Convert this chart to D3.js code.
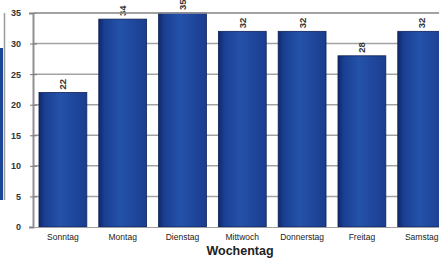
<!DOCTYPE html>
<html>
<head>
  <meta charset="UTF-8">
  <title>Wochentag</title>
  <style>
    body { margin: 0; background: #fff; }
    svg { display: block; font-family: "Liberation Sans", Arial, sans-serif; }
  </style>
</head>
<body>
  <svg id="chart" width="439" height="261"></svg>

  <script src="https://d3js.org/d3.v7.min.js"></script>
  <script>
    // data
    var days = ["Sonntag", "Montag", "Dienstag", "Mittwoch", "Donnerstag", "Freitag", "Samstag"];
    var counts = [22, 34, 35, 32, 32, 28, 32];
    var yTicks = [0, 5, 10, 15, 20, 25, 30, 35];

    var svg = d3.select("#chart"),
      margin = {top: 13, left: 33, bottom: 34},
      height = +svg.attr("height") - margin.top - margin.bottom,
      step = 59.8,
      width = step * days.length;

    var defs = svg.append("defs");
    var grad = defs.append("linearGradient").attr("id", "barGrad")
      .attr("x1", "0%").attr("x2", "100%").attr("y1", "0%").attr("y2", "0%");
    grad.append("stop").attr("offset", "0%").attr("stop-color", "#10286a");
    grad.append("stop").attr("offset", "12%").attr("stop-color", "#1a3f92");
    grad.append("stop").attr("offset", "45%").attr("stop-color", "#2452aa");
    grad.append("stop").attr("offset", "100%").attr("stop-color", "#1a3d8e");

    // fragment of the neighbouring chart cut off at the left edge
    svg.append("rect").attr("x", 0).attr("y", 48).attr("width", 3).attr("height", 152).attr("fill", "#1d4598");
    svg.append("line").attr("x1", 4.5).attr("x2", 4.5).attr("y1", 13).attr("y2", 200)
      .attr("stroke", "#9a9a9a").attr("stroke-width", 1.5);

    var g = svg.append("g").attr("transform", "translate(" + margin.left + "," + margin.top + ")");

    var x = d3.scaleBand().domain(days).range([0, width]).paddingInner(0.2).paddingOuter(0.1);
    var y = d3.scaleLinear().domain([0, 35]).range([height, 0]);

    // grid
    g.append("g")
      .selectAll("line")
      .data(yTicks.filter(function(d) { return d > 0; }))
      .enter().append("line")
        .attr("x1", 0).attr("x2", width)
        .attr("y1", function(d) { return y(d); })
        .attr("y2", function(d) { return y(d); })
        .attr("stroke", "#a3a3a3").attr("stroke-width", 1.5);

    // bars
    g.selectAll(".bar")
      .data(counts)
      .enter().append("rect")
        .attr("class", "bar")
        .attr("x", function(d, i) { return x(days[i]); })
        .attr("y", function(d) { return y(d); })
        .attr("width", x.bandwidth())
        .attr("height", function(d) { return y(0) - y(d); })
        .attr("fill", "url(#barGrad)")
        .attr("stroke", "#0e2158").attr("stroke-width", 0.8);

    // value labels, rotated
    g.selectAll(".val")
      .data(counts)
      .enter().append("text")
        .attr("class", "val")
        .attr("transform", function(d, i) {
          return "translate(" + (x(days[i]) + x.bandwidth() / 2 + 3.5) + "," + (y(d) - 3) + ") rotate(-90)";
        })
        .attr("font-size", 9.5).attr("font-weight", "bold").attr("fill", "#333")
        .text(function(d) { return d; });

    // y axis
    var yAxis = g.append("g")
      .call(d3.axisLeft(y).tickValues(yTicks).tickSize(4).tickPadding(8));
    yAxis.select(".domain").attr("stroke", "#909090").attr("stroke-width", 2);
    yAxis.selectAll(".tick line").attr("stroke", "#7a7a7a").attr("x2", 4).attr("x1", -3);
    yAxis.selectAll(".tick text").attr("font-size", 9).attr("font-weight", "bold").attr("fill", "#333")
      .attr("font-family", "Liberation Sans, Arial, sans-serif");

    // x axis labels
    var xAxis = g.append("g")
      .attr("transform", "translate(0," + height + ")")
      .call(d3.axisBottom(x).tickSize(0).tickPadding(7));
    xAxis.select(".domain").attr("stroke", "#a0a0a0").attr("stroke-width", 1);
    xAxis.selectAll(".tick text").attr("font-size", 8.5).attr("fill", "#222")
      .attr("font-family", "Liberation Sans, Arial, sans-serif");

    // top border
    g.append("line").attr("x1", 0).attr("x2", width).attr("y1", 0).attr("y2", 0)
      .attr("stroke", "#9a9a9a").attr("stroke-width", 1.5);

    svg.append("text")
      .attr("x", 240).attr("y", 255)
      .attr("text-anchor", "middle")
      .attr("font-size", 12.5).attr("font-weight", "bold").attr("fill", "#222")
      .text("Wochentag");
  </script>
</body>
</html>
